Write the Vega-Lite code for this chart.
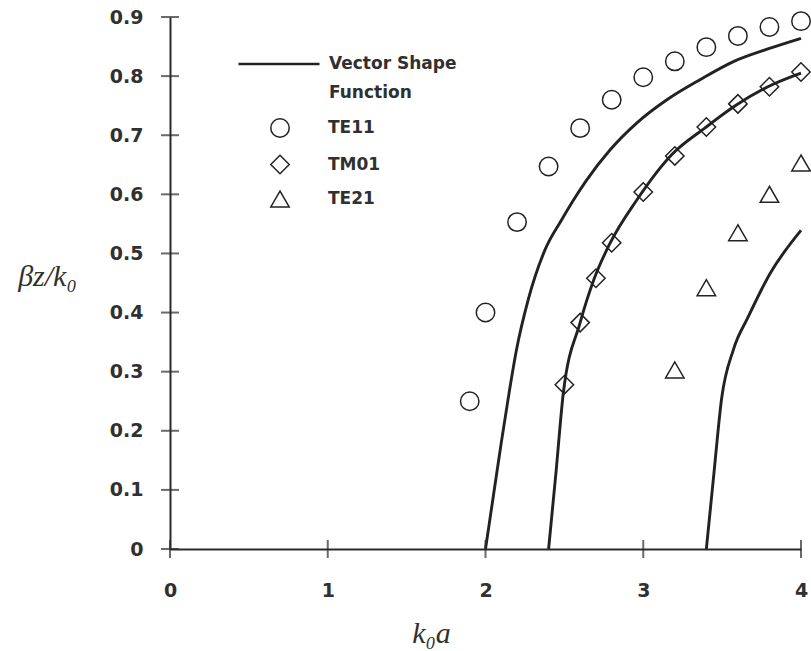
{
  "$schema": "https://vega.github.io/schema/vega-lite/v6.json",
  "width": 631,
  "height": 532,
  "autosize": {"type": "none"},
  "padding": {"left": 170, "top": 17, "right": 10, "bottom": 102},
  "background": "white",
  "config": {"view": {"stroke": null}, "font": "DejaVu Sans"},
  "datasets": {
    "curves": [
      {"curve": "c1", "label": "Vector Shape Function", "x": 2.0, "y": 0.0},
      {"curve": "c1", "label": "Vector Shape Function", "x": 2.05, "y": 0.09},
      {"curve": "c1", "label": "Vector Shape Function", "x": 2.1, "y": 0.18},
      {"curve": "c1", "label": "Vector Shape Function", "x": 2.15, "y": 0.265},
      {"curve": "c1", "label": "Vector Shape Function", "x": 2.195, "y": 0.335},
      {"curve": "c1", "label": "Vector Shape Function", "x": 2.27, "y": 0.421},
      {"curve": "c1", "label": "Vector Shape Function", "x": 2.377, "y": 0.506},
      {"curve": "c1", "label": "Vector Shape Function", "x": 2.483, "y": 0.557},
      {"curve": "c1", "label": "Vector Shape Function", "x": 2.557, "y": 0.59},
      {"curve": "c1", "label": "Vector Shape Function", "x": 2.641, "y": 0.624},
      {"curve": "c1", "label": "Vector Shape Function", "x": 2.789, "y": 0.675},
      {"curve": "c1", "label": "Vector Shape Function", "x": 2.96, "y": 0.721},
      {"curve": "c1", "label": "Vector Shape Function", "x": 3.15, "y": 0.76},
      {"curve": "c1", "label": "Vector Shape Function", "x": 3.36, "y": 0.794},
      {"curve": "c1", "label": "Vector Shape Function", "x": 3.575, "y": 0.825},
      {"curve": "c1", "label": "Vector Shape Function", "x": 3.79, "y": 0.846},
      {"curve": "c1", "label": "Vector Shape Function", "x": 4.0, "y": 0.864},
      {"curve": "c2", "label": "Vector Shape Function", "x": 2.4, "y": 0.0},
      {"curve": "c2", "label": "Vector Shape Function", "x": 2.447, "y": 0.13},
      {"curve": "c2", "label": "Vector Shape Function", "x": 2.493, "y": 0.263},
      {"curve": "c2", "label": "Vector Shape Function", "x": 2.599, "y": 0.382},
      {"curve": "c2", "label": "Vector Shape Function", "x": 2.69, "y": 0.458},
      {"curve": "c2", "label": "Vector Shape Function", "x": 2.789, "y": 0.517},
      {"curve": "c2", "label": "Vector Shape Function", "x": 2.958, "y": 0.59},
      {"curve": "c2", "label": "Vector Shape Function", "x": 3.18, "y": 0.667},
      {"curve": "c2", "label": "Vector Shape Function", "x": 3.39, "y": 0.712},
      {"curve": "c2", "label": "Vector Shape Function", "x": 3.59, "y": 0.751},
      {"curve": "c2", "label": "Vector Shape Function", "x": 3.79, "y": 0.782},
      {"curve": "c2", "label": "Vector Shape Function", "x": 4.0, "y": 0.805},
      {"curve": "c3", "label": "Vector Shape Function", "x": 3.4, "y": 0.0},
      {"curve": "c3", "label": "Vector Shape Function", "x": 3.448, "y": 0.128},
      {"curve": "c3", "label": "Vector Shape Function", "x": 3.497, "y": 0.255},
      {"curve": "c3", "label": "Vector Shape Function", "x": 3.571, "y": 0.337},
      {"curve": "c3", "label": "Vector Shape Function", "x": 3.666, "y": 0.393},
      {"curve": "c3", "label": "Vector Shape Function", "x": 3.804, "y": 0.466},
      {"curve": "c3", "label": "Vector Shape Function", "x": 4.0, "y": 0.539}
    ],
    "points": [
      {"series": "TE11", "x": 1.9, "y": 0.25},
      {"series": "TE11", "x": 2.0, "y": 0.4},
      {"series": "TE11", "x": 2.2, "y": 0.553},
      {"series": "TE11", "x": 2.4, "y": 0.647},
      {"series": "TE11", "x": 2.6, "y": 0.712},
      {"series": "TE11", "x": 2.8, "y": 0.76},
      {"series": "TE11", "x": 3.0, "y": 0.798},
      {"series": "TE11", "x": 3.2, "y": 0.825},
      {"series": "TE11", "x": 3.4, "y": 0.849},
      {"series": "TE11", "x": 3.6, "y": 0.868},
      {"series": "TE11", "x": 3.8, "y": 0.883},
      {"series": "TE11", "x": 4.0, "y": 0.893},
      {"series": "TM01", "x": 2.5, "y": 0.278},
      {"series": "TM01", "x": 2.6, "y": 0.383},
      {"series": "TM01", "x": 2.7, "y": 0.458},
      {"series": "TM01", "x": 2.8, "y": 0.518},
      {"series": "TM01", "x": 3.0, "y": 0.604},
      {"series": "TM01", "x": 3.2, "y": 0.665},
      {"series": "TM01", "x": 3.4, "y": 0.714},
      {"series": "TM01", "x": 3.6, "y": 0.753},
      {"series": "TM01", "x": 3.8, "y": 0.782},
      {"series": "TM01", "x": 4.0, "y": 0.807},
      {"series": "TE21", "x": 3.2, "y": 0.303},
      {"series": "TE21", "x": 3.4, "y": 0.442},
      {"series": "TE21", "x": 3.6, "y": 0.535},
      {"series": "TE21", "x": 3.8, "y": 0.6},
      {"series": "TE21", "x": 4.0, "y": 0.653}
    ],
    "xticks": [{"x": 0, "y": 0}, {"x": 1, "y": 0}, {"x": 2, "y": 0}, {"x": 3, "y": 0}, {"x": 4, "y": 0}],
    "yticks": [{"x": 0, "y": 0}, {"x": 0, "y": 0.1}, {"x": 0, "y": 0.2}, {"x": 0, "y": 0.3}, {"x": 0, "y": 0.4}, {"x": 0, "y": 0.5}, {"x": 0, "y": 0.6}, {"x": 0, "y": 0.7}, {"x": 0, "y": 0.8}, {"x": 0, "y": 0.9}]
  },
  "encoding": {
    "x": {
      "field": "x",
      "type": "quantitative",
      "scale": {"domain": [0, 4], "nice": false, "zero": false},
      "axis": {
        "values": [0, 1, 2, 3, 4],
        "format": "d",
        "grid": false,
        "ticks": false,
        "domainColor": "#2b2b2b",
        "domainWidth": 2,
        "labelFont": "DejaVu Sans",
        "labelFontWeight": "bold",
        "labelFontSize": 19,
        "labelColor": "#303030",
        "labelPadding": 32,
        "labelFlush": false,
        "labelOverlap": false,
        "title": "k₀a",
        "titleFont": "Liberation Serif",
        "titleFontStyle": "italic",
        "titleFontWeight": "normal",
        "titleFontSize": 30,
        "titleColor": "#303030",
        "titleX": 261,
        "titleY": 93,
        "titleAlign": "center",
        "titleBaseline": "alphabetic"
      }
    },
    "y": {
      "field": "y",
      "type": "quantitative",
      "scale": {"domain": [0, 0.9], "nice": false, "zero": false},
      "axis": {
        "values": [0, 0.1, 0.2, 0.3, 0.4, 0.5, 0.6, 0.7, 0.8, 0.9],
        "format": ".1~f",
        "grid": false,
        "ticks": false,
        "domainColor": "#2b2b2b",
        "domainWidth": 2,
        "labelFont": "DejaVu Sans",
        "labelFontWeight": "bold",
        "labelFontSize": 19,
        "labelColor": "#303030",
        "labelPadding": 27,
        "labelFlush": false,
        "labelOverlap": false,
        "title": "βz/k₀",
        "titleFont": "Liberation Serif",
        "titleFontStyle": "italic",
        "titleFontWeight": "normal",
        "titleFontSize": 30,
        "titleColor": "#303030",
        "titleAngle": 0,
        "titleX": -123,
        "titleY": 268,
        "titleAlign": "center",
        "titleBaseline": "alphabetic"
      }
    }
  },
  "layer": [
    {
      "data": {"name": "curves"},
      "mark": {"type": "line", "strokeWidth": 2.9, "interpolate": "monotone"},
      "encoding": {
        "detail": {"field": "curve"},
        "color": {
          "field": "label",
          "type": "nominal",
          "scale": {"domain": ["Vector Shape Function"], "range": ["#222222"]},
          "legend": {
            "orient": "none",
            "legendX": 67,
            "legendY": 5,
            "title": null,
            "padding": 0,
            "symbolType": "stroke",
            "symbolSize": 6561,
            "symbolStrokeWidth": 2.5,
            "labelFont": "DejaVu Sans",
            "labelFontWeight": "bold",
            "labelFontSize": 17,
            "labelColor": "#303030",
            "labelOffset": 8,
            "labelLimit": 400,
            "labelExpr": "['Vector Shape', 'Function']",
            "encode": {"labels": {"update": {"lineHeight": {"value": 29}}}}
          }
        }
      }
    },
    {
      "data": {"name": "points"},
      "mark": {"type": "point", "filled": false, "color": "#222222", "strokeWidth": 1.5, "size": 340, "opacity": 1},
      "encoding": {
        "shape": {
          "field": "series",
          "type": "nominal",
          "scale": {"domain": ["TE11", "TM01", "TE21"], "range": ["circle", "diamond", "triangle-up"]},
          "legend": {
            "orient": "none",
            "legendX": 100,
            "legendY": 101,
            "title": null,
            "padding": 0,
            "symbolSize": 340,
            "symbolStrokeWidth": 1.5,
            "symbolStrokeColor": "#222222",
            "symbolFillColor": "transparent",
            "rowPadding": 10.5,
            "labelFont": "DejaVu Sans",
            "labelFontWeight": "bold",
            "labelFontSize": 17,
            "labelColor": "#303030",
            "labelOffset": 38
          }
        }
      }
    },
    {
      "data": {"name": "xticks"},
      "mark": {"type": "tick", "orient": "vertical", "size": 18, "thickness": 2, "color": "#2b2b2b"}
    },
    {
      "data": {"name": "yticks"},
      "mark": {"type": "tick", "orient": "horizontal", "size": 18, "thickness": 2, "color": "#2b2b2b"}
    }
  ]
}
